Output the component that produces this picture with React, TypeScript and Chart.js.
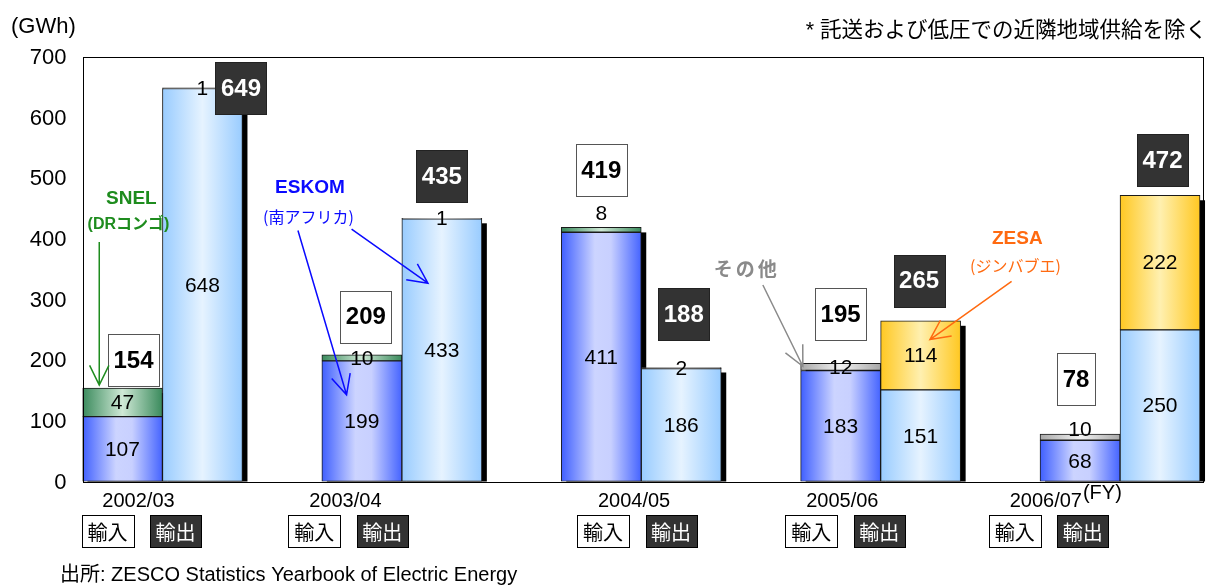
import React, { useEffect, useRef } from "react";
import { Chart, registerables } from "chart.js";

Chart.register(...registerables);

// ---------------- data ----------------
const years = ["2002/03", "2003/04", "2004/05", "2005/06", "2006/07"];
const importEskom = [107, 199, 411, 183, 68];
const importSnel = [47, 10, 8, 0, 0];
const importOther = [0, 0, 0, 12, 10];
const exportEskom = [648, 433, 186, 151, 250];
const exportZesa = [0, 0, 0, 114, 222];
const exportOther = [1, 1, 2, 0, 0];
const importTotals = [154, 209, 419, 195, 78];
const exportTotals = [649, 435, 188, 265, 472];
const yTicks = [0, 100, 200, 300, 400, 500, 600, 700];

// ---------------- layout / style ----------------
const W = 1210;
const H = 585;
const BAR_W = 80;
const X_MIN = -0.334;
const X_MAX = 4.3445;
const LATIN = '"Liberation Sans", Arial, "Noto Sans CJK JP", sans-serif';
const JP = '"Noto Sans CJK JP", "Liberation Sans", sans-serif';
const GREEN = "#1e8c1e";
const BLUE = "#0a0aff";
const GRAY = "#8a8a8a";
const ORANGE = "#ff6a10";

const G_BLUE: [number, string][] = [[0, "#3f5fff"], [0.42, "#ccd4ff"], [0.62, "#c8d0ff"], [1, "#4564ff"]];
const G_GREEN: [number, string][] = [[0, "#3a8a5c"], [0.5, "#cfe9d6"], [1, "#3a8a5c"]];
const G_GRAYB: [number, string][] = [[0, "#a8a8a8"], [0.5, "#f2f2f2"], [1, "#a8a8a8"]];
const G_LBLUE: [number, string][] = [[0, "#99ccff"], [0.5, "#e6f3ff"], [1, "#99ccff"]];
const G_GOLD: [number, string][] = [[0, "#ffc822"], [0.5, "#fff0b0"], [1, "#ffc822"]];

// year label shifts (x units) and total-box offsets (px, relative to bar centre / top)
const yearLabelShift = [-0.1, -0.236, -0.03, -0.16, -0.31];
const importBoxOffset = [[11, -28], [4, -38], [0, -57], [0, -49], [-4, -55]];
const exportBoxOffset = [[38.5, 0], [0, -42], [2.5, -53], [-1.5, -40], [2.5, -35]];
const labelDy: Record<string, number> = { "1-2": -17, "2-4": -8 };

const notes = [
  { text: "SNEL", u: -0.13, v: 467, color: GREEN, font: `bold 19px ${LATIN}` },
  { text: "(DRコンゴ)", u: -0.142, v: 423, color: GREEN, font: `bold 16px ${LATIN}` },
  { text: "ESKOM", u: 0.616, v: 485, color: BLUE, font: `bold 19px ${LATIN}` },
  { text: "(南アフリカ)", u: 0.61, v: 436, color: BLUE, font: `16px ${JP}` },
  { text: "その他", u: 2.441, v: 350, color: GRAY, font: `bold 19px ${JP}`, spacing: "3px" },
  { text: "ZESA", u: 3.571, v: 400, color: ORANGE, font: `bold 19px ${LATIN}` },
  { text: "(ジンバブエ)", u: 3.563, v: 356, color: ORANGE, font: `16px ${JP}` },
];
const arrows = [
  { from: [-0.264, 395], to: [-0.264, 159], color: GREEN },
  { from: [0.566, 414], to: [0.769, 143], color: BLUE },
  { from: [0.79, 416], to: [1.109, 327], color: BLUE },
  { from: [2.508, 324], to: [2.675, 190], color: GRAY },
  { from: [3.547, 330], to: [3.206, 234], color: ORANGE },
];

const series = [
  { label: "ESKOM 輸入", values: importEskom, stack: "import", grad: G_BLUE },
  { label: "SNEL 輸入", values: importSnel, stack: "import", grad: G_GREEN },
  { label: "その他 輸入", values: importOther, stack: "import", grad: G_GRAYB },
  { label: "ESKOM 輸出", values: exportEskom, stack: "export", grad: G_LBLUE },
  { label: "ZESA 輸出", values: exportZesa, stack: "export", grad: G_GOLD },
  { label: "その他 輸出", values: exportOther, stack: "export", grad: G_GRAYB },
];

function makeBg(stops: [number, string][], stack: string) {
  return (ctx: any) => {
    const chart = ctx.chart;
    const xs = chart.scales && chart.scales.x;
    if (ctx.type !== "data" || !chart.chartArea || !xs) return stops[1][1];
    const c = xs.getPixelForValue(ctx.dataIndex);
    const left = stack === "import" ? c - BAR_W : c;
    const g = chart.ctx.createLinearGradient(left, 0, left + BAR_W, 0);
    stops.forEach(([o, col]) => g.addColorStop(o, col));
    return g;
  };
}

function drawArrow(c: CanvasRenderingContext2D, x1: number, y1: number, x2: number, y2: number, color: string) {
  c.save();
  c.strokeStyle = color;
  c.lineWidth = 1.5;
  c.beginPath();
  c.moveTo(x1, y1);
  c.lineTo(x2, y2);
  const a = Math.atan2(y2 - y1, x2 - x1);
  const L = 22;
  const h = (26 * Math.PI) / 180;
  c.moveTo(x2 - L * Math.cos(a - h), y2 - L * Math.sin(a - h));
  c.lineTo(x2, y2);
  c.lineTo(x2 - L * Math.cos(a + h), y2 - L * Math.sin(a + h));
  c.stroke();
  c.restore();
}

function stackTop(chart: any, stack: string, i: number) {
  const ys = chart.scales.y;
  let sum = 0;
  series.forEach((s) => {
    if (s.stack === stack) sum += s.values[i];
  });
  return ys.getPixelForValue(sum);
}

const decor = {
  id: "decor",
  beforeDatasetsDraw(chart: any) {
    const c = chart.ctx as CanvasRenderingContext2D;
    const ys = chart.scales.y;
    const base = ys.getPixelForValue(0);
    c.save();
    c.fillStyle = "#000";
    ["import", "export"].forEach((stack) => {
      const di = stack === "import" ? 0 : 3;
      const meta = chart.getDatasetMeta(di);
      years.forEach((_, i) => {
        const el = meta.data[i];
        const top = stackTop(chart, stack, i);
        const left = el.x - el.width / 2;
        c.fillRect(left + 5, top + 5, el.width, base - top - 5);
      });
    });
    c.restore();
  },
  afterDatasetsDraw(chart: any) {
    const c = chart.ctx as CanvasRenderingContext2D;
    const xs = chart.scales.x;
    const ys = chart.scales.y;
    const ca = chart.chartArea;
    c.save();
    // plot border
    c.strokeStyle = "#000";
    c.lineWidth = 1;
    c.strokeRect(Math.round(ca.left) + 0.5, Math.round(ca.top) + 0.5, Math.round(ca.right - ca.left), Math.round(ca.bottom - ca.top));

    // segment labels
    c.textAlign = "center";
    c.textBaseline = "middle";
    c.fillStyle = "#000";
    c.font = `21px ${LATIN}`;
    series.forEach((s, di) => {
      const meta = chart.getDatasetMeta(di);
      s.values.forEach((v, i) => {
        if (!v) return;
        const el = meta.data[i];
        const y = (el.y + el.base) / 2 + (labelDy[`${di}-${i}`] || 0);
        c.fillText(String(v), el.x, y + 1);
      });
    });

    // total boxes
    const drawBox = (text: string, cx: number, cy: number, dark: boolean) => {
      c.font = `bold 24px ${LATIN}`;
      const w = Math.round(c.measureText(text).width + 11);
      const h = 52;
      const x0 = Math.round(cx - w / 2) + 0.5;
      const y0 = Math.round(cy - h / 2) + 0.5;
      c.fillStyle = dark ? "#333333" : "#ffffff";
      c.fillRect(x0, y0, w, h);
      c.strokeStyle = dark ? "#222" : "#555";
      c.lineWidth = 1;
      c.strokeRect(x0, y0, w, h);
      c.fillStyle = dark ? "#ffffff" : "#000000";
      c.fillText(text, cx, cy + 1);
    };
    years.forEach((_, i) => {
      const imEl = chart.getDatasetMeta(0).data[i];
      const exEl = chart.getDatasetMeta(3).data[i];
      const it = stackTop(chart, "import", i);
      const et = stackTop(chart, "export", i);
      drawBox(String(importTotals[i]), imEl.x + importBoxOffset[i][0], it + importBoxOffset[i][1], false);
      drawBox(String(exportTotals[i]), exEl.x + exportBoxOffset[i][0], et + exportBoxOffset[i][1], true);
    });

    // annotations
    arrows.forEach((a) => {
      drawArrow(
        c,
        xs.getPixelForValue(a.from[0]),
        ys.getPixelForValue(a.from[1]),
        xs.getPixelForValue(a.to[0]),
        ys.getPixelForValue(a.to[1]),
        a.color
      );
    });
    notes.forEach((n: any) => {
      c.save();
      c.font = n.font;
      c.fillStyle = n.color;
      c.textAlign = "center";
      c.textBaseline = "middle";
      if (n.spacing) (c as any).letterSpacing = n.spacing;
      c.fillText(n.text, xs.getPixelForValue(n.u), ys.getPixelForValue(n.v));
      c.restore();
    });
    c.restore();
  },
  afterDraw(chart: any) {
    const c = chart.ctx as CanvasRenderingContext2D;
    const xs = chart.scales.x;
    const ys = chart.scales.y;
    const ca = chart.chartArea;
    c.save();
    c.fillStyle = "#000";
    // y tick labels
    c.font = `22px ${LATIN}`;
    c.textAlign = "right";
    c.textBaseline = "middle";
    yTicks.forEach((v) => c.fillText(String(v), ca.left - 16, ys.getPixelForValue(v) + 1));
    // unit
    c.textAlign = "left";
    c.fillText("(GWh)", 11, 27);
    // note
    c.font = `21.5px ${LATIN}`;
    c.textAlign = "right";
    c.fillText("* 託送および低圧での近隣地域供給を除く", 1207, 31);
    // source
    c.font = `20px ${LATIN}`;
    c.textAlign = "left";
    c.fillText("出所: ZESCO Statistics Yearbook of Electric Energy", 60, 575);

    // year labels + import/export tags
    years.forEach((y, i) => {
      const x = xs.getPixelForValue(i + yearLabelShift[i]);
      c.font = `20px ${LATIN}`;
      c.textAlign = "center";
      c.fillStyle = "#000";
      c.fillText(y, x, 501);
      if (i === years.length - 1) {
        const tw = c.measureText(y).width;
        c.textAlign = "left";
        c.fillText("(FY)", x + tw / 2 + 1, 493);
      }
      const tags = [
        { t: "輸入", cx: x - 31, w: 52, dark: false },
        { t: "輸出", cx: x + 37, w: 51, dark: true },
      ];
      tags.forEach((g) => {
        const x0 = Math.round(g.cx - g.w / 2) + 0.5;
        const y0 = 515.5;
        c.fillStyle = g.dark ? "#333333" : "#ffffff";
        c.fillRect(x0, y0, g.w, 32);
        c.strokeStyle = "#000";
        c.lineWidth = 1;
        c.strokeRect(x0, y0, g.w, 32);
        c.fillStyle = g.dark ? "#ffffff" : "#000000";
        c.font = `20px ${JP}`;
        c.textAlign = "center";
        c.fillText(g.t, g.cx, 532);
      });
    });
    c.restore();
  },
};

export default function App() {
  const ref = useRef<HTMLCanvasElement>(null);
  useEffect(() => {
    document.body.style.margin = "0";
    const canvas = ref.current;
    if (!canvas) return;
    const chart = new Chart(canvas, {
      type: "bar",
      data: {
        datasets: series.map((s) => ({
          label: s.label,
          data: s.values.map((v, i) => ({ x: i, y: v ? v : null })),
          stack: s.stack,
          backgroundColor: makeBg(s.grad, s.stack),
          borderColor: "#1a1a1a",
          borderWidth: 1,
          borderSkipped: false,
          barThickness: BAR_W,
        })) as any,
      },
      options: {
        responsive: false,
        maintainAspectRatio: false,
        animation: false,
        devicePixelRatio: 1,
        layout: { padding: { left: 82.5, right: 7.5, top: 57, bottom: 103.5 } },
        plugins: { legend: { display: false }, tooltip: { enabled: false } },
        scales: {
          x: { type: "linear", min: X_MIN, max: X_MAX, offset: false, stacked: true, display: false },
          y: { min: 0, max: 700, stacked: true, display: false, ticks: { stepSize: 100 } },
        },
      } as any,
      plugins: [decor],
    });
    return () => chart.destroy();
  }, []);
  return (
    <div style={{ position: "absolute", left: 0, top: 0, width: W, height: H, background: "#fff" }}>
      <canvas ref={ref} width={W} height={H} style={{ display: "block", width: W, height: H }} />
    </div>
  );
}
